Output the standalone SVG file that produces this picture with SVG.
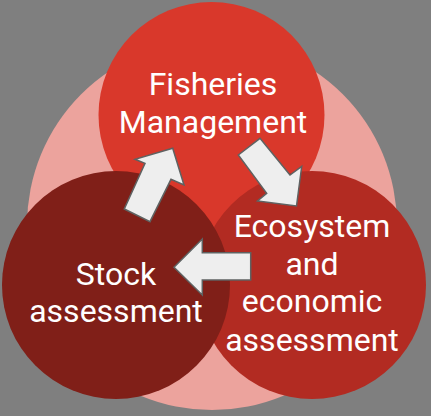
<svg xmlns="http://www.w3.org/2000/svg" width="431" height="416" viewBox="0 0 431 416">
<style>
.lbl{font-family:Roboto,"Liberation Sans",sans-serif;font-size:32px;fill:#ffffff;text-anchor:middle}
.arr{fill:#eeeeee;stroke:#5f6262;stroke-width:1.5;stroke-linejoin:miter}
</style>
<rect x="0" y="0" width="431" height="416" fill="#7f7f7f"/>
<g id="background">
<circle cx="212" cy="225" r="185" fill="#eca39d"/>
</g>
<g id="fisheries">
<circle cx="211.5" cy="115" r="113" fill="#d9382b"/>
<text class="lbl" x="213" y="94.5">Fisheries</text>
<text class="lbl" x="213" y="132.8">Management</text>
</g>
<g id="ecosystem">
<circle cx="312" cy="285" r="114" fill="#b22b22"/>
<text class="lbl" x="312" y="237.3">Ecosystem</text>
<text class="lbl" x="312" y="274.8">and</text>
<text class="lbl" x="312" y="312.4">economic</text>
<text class="lbl" x="312" y="350.7">assessment</text>
</g>
<g id="stock">
<circle cx="116" cy="285" r="114" fill="#801f18"/>
<text class="lbl" x="116" y="284.7">Stock</text>
<text class="lbl" x="116" y="322.3">assessment</text>
</g>
<g id="connectors">
<polygon class="arr" points="124.3,209 150,221.7 171,179.3 184,185 172.7,148.3 135,159.3 145,163.3"/>
<polygon class="arr" points="238.3,155 260,138.3 290,175 301.7,166.5 296.5,206 257.5,201 266.7,193.3"/>
<polygon class="arr" points="250.7,252.7 202.3,252.7 202.3,239 174,267.3 202.3,295 202.3,280 250.7,280"/>
</g>
</svg>
